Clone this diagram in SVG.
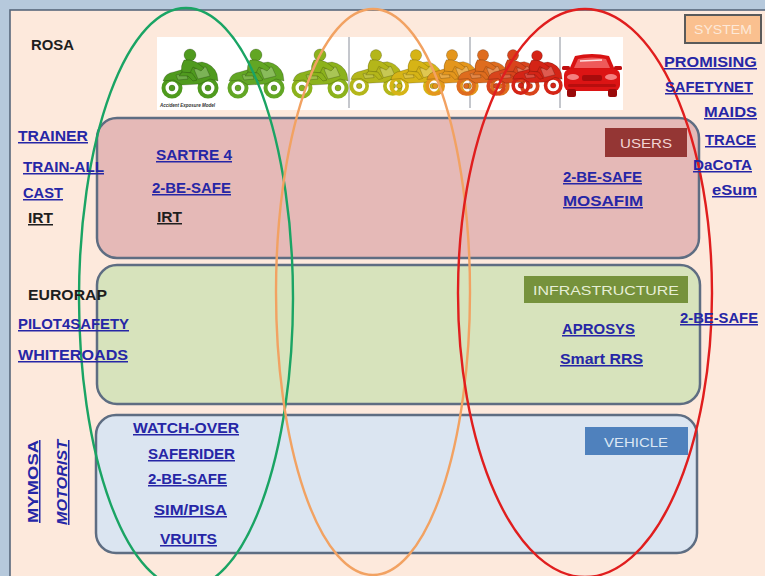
<svg xmlns="http://www.w3.org/2000/svg" xmlns:xlink="http://www.w3.org/1999/xlink" width="765" height="576" viewBox="0 0 765 576">
  <style>
    .lnk { font-family: "Liberation Sans", Arial, sans-serif; font-weight: bold; font-size: 15px; fill: #2626a6; text-decoration: underline; }
    .dark { font-family: "Liberation Sans", Arial, sans-serif; font-weight: bold; font-size: 15px; fill: #1e1e1e; }
    .tag { font-family: "Liberation Sans", Arial, sans-serif; font-size: 13.5px; text-anchor: middle; }
    .box { stroke: #5e6d82; stroke-width: 2.5; }
    .ring { fill: none; stroke-width: 2.4; }
  </style>
  <defs>
    <!-- rider on a sport motorcycle, facing right -->
    <symbol id="bike" viewBox="0 0 60 50" overflow="visible">
      <g stroke="rgba(0,0,0,0.25)" stroke-width="0.8">
        <circle cx="12" cy="40" r="8.5" fill="none" stroke="currentColor" stroke-width="4"/>
        <circle cx="48" cy="40" r="8.5" fill="none" stroke="currentColor" stroke-width="4"/>
        <circle cx="12" cy="40" r="3" fill="currentColor"/>
        <circle cx="48" cy="40" r="3" fill="currentColor"/>
        <path d="M3 33 Q5 25 14 24 L24 21 L30 16 L42 14 Q53 16 57 26 L58 33 L50 31 L40 36 L22 37 L14 32 Z" fill="currentColor"/>
        <path d="M34 21 L46 19 L50 28 L38 31 Z" fill="#ffffff" fill-opacity="0.25"/>
        <path d="M16 27 L26 25 L28 31 L18 32 Z" fill="#ffffff" fill-opacity="0.18"/>
        <circle cx="30" cy="7" r="6" fill="currentColor"/>
        <path d="M24 12 Q30 11 36 14 L44 20 L41 23 L33 19 L30 25 L22 25 Q20 18 24 12 Z" fill="currentColor"/>
        <path d="M22 24 L32 25 L37 32 L33 33 L28 28 L19 28 Z" fill="currentColor"/>
      </g>
    </symbol>
    <!-- car seen from the front -->
    <symbol id="car" viewBox="0 0 60 46" overflow="visible">
      <path d="M13 4 Q30 0 47 4 L53 18 L7 18 Z" fill="#d81212"/>
      <path d="M16 7 Q30 4 44 7 L48 16 L12 16 Z" fill="#ee5a5a"/>
      <path d="M18 9 L40 8" stroke="#ffffff" stroke-width="1.5" stroke-opacity="0.8"/>
      <rect x="0" y="14" width="8" height="4" rx="1.5" fill="#c00e0e"/>
      <rect x="52" y="14" width="8" height="4" rx="1.5" fill="#c00e0e"/>
      <rect x="2" y="17" width="56" height="22" rx="6" fill="#dc1414"/>
      <ellipse cx="11" cy="25" rx="6" ry="3" fill="#f48080"/>
      <ellipse cx="49" cy="25" rx="6" ry="3" fill="#f48080"/>
      <rect x="20" y="23" width="20" height="6" rx="2" fill="#a80c0c"/>
      <rect x="6" y="32" width="48" height="3" rx="1.5" fill="#b80e0e"/>
      <rect x="5" y="37" width="9" height="8" rx="2" fill="#9a0a0a"/>
      <rect x="46" y="37" width="9" height="8" rx="2" fill="#9a0a0a"/>
    </symbol>
  </defs>

  <!-- outer frame -->
  <rect x="0" y="0" width="765" height="576" fill="#b6c9dc"/>
  <rect x="10" y="10" width="760" height="575" fill="#fde9dc" stroke="#58677c" stroke-width="1.6"/>

  <!-- picture strip: exposure scale from motorcycles to car -->
  <g id="exposure-strip">
    <rect x="157" y="37" width="466" height="73" fill="#ffffff"/>
    <line x1="349" y1="37" x2="349" y2="108" stroke="#8a8f9a" stroke-width="1"/>
    <line x1="470" y1="37" x2="470" y2="108" stroke="#8a8f9a" stroke-width="1"/>
    <line x1="560" y1="37" x2="560" y2="108" stroke="#8a8f9a" stroke-width="1"/>
    <use xlink:href="#bike" x="160" y="48" width="60" height="50" style="color:#4f9a1e"/>
    <use xlink:href="#bike" x="226" y="48" width="60" height="50" style="color:#62a624"/>
    <use xlink:href="#bike" x="290" y="48" width="60" height="50" style="color:#8cb21c"/>
    <use xlink:href="#bike" x="348" y="48" width="56" height="48" style="color:#b4b61a"/>
    <use xlink:href="#bike" x="388" y="48" width="56" height="48" style="color:#d6b416"/>
    <use xlink:href="#bike" x="424" y="48" width="56" height="48" style="color:#e4961c"/>
    <use xlink:href="#bike" x="455" y="48" width="56" height="48" style="color:#de6c1e"/>
    <use xlink:href="#bike" x="485" y="48" width="56" height="48" style="color:#d8441c"/>
    <use xlink:href="#bike" x="510" y="47" width="54" height="50" style="color:#d42416"/>
    <use xlink:href="#car" x="562" y="52" width="60" height="46"/>
    <text x="160" y="107" font-family="Liberation Sans, Arial, sans-serif" font-size="4.5" font-style="italic" font-weight="bold" fill="#333">Accident Exposure Model</text>
  </g>

  <!-- category panels -->
  <g id="users">
    <rect class="box" x="97" y="118" width="602" height="140" rx="20" fill="#e5b9b7"/>
    <rect x="605" y="128" width="82" height="29" fill="#943634"/>
    <text class="tag" x="646" y="148" fill="#f2d4d4" textLength="52" lengthAdjust="spacingAndGlyphs">USERS</text>
  </g>
  <g id="infrastructure">
    <rect class="box" x="97" y="265" width="603" height="139" rx="20" fill="#d7e3bc"/>
    <rect x="524" y="276" width="164" height="27" fill="#76923c"/>
    <text class="tag" x="606" y="295" fill="#e6eed6" textLength="146" lengthAdjust="spacingAndGlyphs">INFRASTRUCTURE</text>
  </g>
  <g id="vehicle">
    <rect class="box" x="96" y="415" width="601" height="138" rx="20" fill="#dbe5f1"/>
    <rect x="585" y="427" width="103" height="28" fill="#4f81bd"/>
    <text class="tag" x="636" y="446.5" fill="#dce8f4" textLength="64" lengthAdjust="spacingAndGlyphs">VEHICLE</text>
  </g>
  <g id="system">
    <rect x="685" y="15" width="76" height="28" fill="#fac08f" stroke="#5a5a5a" stroke-width="2"/>
    <text class="tag" x="723" y="34" fill="#fde9d9" textLength="58" lengthAdjust="spacingAndGlyphs">SYSTEM</text>
  </g>

  <!-- exposure groupings -->
  <g id="connectors">
    <ellipse class="ring" cx="186" cy="298" rx="107" ry="290" stroke="#1aa464"/>
    <ellipse class="ring" cx="373" cy="292" rx="97" ry="283" stroke="#f2a262"/>
    <ellipse class="ring" cx="585" cy="293" rx="127" ry="284" stroke="#e01e1e"/>
  </g>

  <!-- projects -->
  <g id="projects-general">
    <text class="dark" x="31" y="50" font-size="14" textLength="43" lengthAdjust="spacingAndGlyphs">ROSA</text>
    <text class="lnk" x="18" y="141" textLength="70" lengthAdjust="spacingAndGlyphs">TRAINER</text>
    <text class="lnk" x="23" y="172" textLength="81" lengthAdjust="spacingAndGlyphs">TRAIN-ALL</text>
    <text class="lnk" x="23" y="198" textLength="40" lengthAdjust="spacingAndGlyphs">CAST</text>
    <text class="dark" x="28" y="223" text-decoration="underline" textLength="25" lengthAdjust="spacingAndGlyphs">IRT</text>
    <text class="dark" x="28" y="300" fill="#3a2a1c" textLength="79" lengthAdjust="spacingAndGlyphs">EURORAP</text>
    <text class="lnk" x="18" y="329" textLength="111" lengthAdjust="spacingAndGlyphs">PILOT4SAFETY</text>
    <text class="lnk" x="18" y="360" textLength="110" lengthAdjust="spacingAndGlyphs">WHITEROADS</text>
    <text class="lnk" transform="translate(38 523) rotate(-90)" x="0" y="0" textLength="83" lengthAdjust="spacingAndGlyphs">MYMOSA</text>
    <text class="lnk" transform="translate(67 525) rotate(-90)" x="0" y="0" font-style="italic" textLength="85" lengthAdjust="spacingAndGlyphs">MOTORIST</text>
  </g>
  <g id="projects-users">
    <text class="lnk" x="156" y="160" textLength="76" lengthAdjust="spacingAndGlyphs">SARTRE 4</text>
    <text class="lnk" x="152" y="193" textLength="79" lengthAdjust="spacingAndGlyphs">2-BE-SAFE</text>
    <text class="dark" x="157" y="222" text-decoration="underline" textLength="25" lengthAdjust="spacingAndGlyphs">IRT</text>
    <text class="lnk" x="563" y="182" textLength="79" lengthAdjust="spacingAndGlyphs">2-BE-SAFE</text>
    <text class="lnk" x="563" y="206" textLength="80" lengthAdjust="spacingAndGlyphs">MOSAFIM</text>
  </g>
  <g id="projects-system">
    <text class="lnk" x="664" y="67" textLength="93" lengthAdjust="spacingAndGlyphs">PROMISING</text>
    <text class="lnk" x="665" y="92" textLength="88" lengthAdjust="spacingAndGlyphs">SAFETYNET</text>
    <text class="lnk" x="704" y="117" textLength="53" lengthAdjust="spacingAndGlyphs">MAIDS</text>
    <text class="lnk" x="705" y="145" textLength="51" lengthAdjust="spacingAndGlyphs">TRACE</text>
    <text class="lnk" x="693" y="170" textLength="59" lengthAdjust="spacingAndGlyphs">DaCoTA</text>
    <text class="lnk" x="712" y="195" textLength="45" lengthAdjust="spacingAndGlyphs">eSum</text>
  </g>
  <g id="projects-infrastructure">
    <text class="lnk" x="680" y="323" textLength="78" lengthAdjust="spacingAndGlyphs">2-BE-SAFE</text>
    <text class="lnk" x="562" y="334" textLength="73" lengthAdjust="spacingAndGlyphs">APROSYS</text>
    <text class="lnk" x="560" y="364" textLength="83" lengthAdjust="spacingAndGlyphs">Smart RRS</text>
  </g>
  <g id="projects-vehicle">
    <text class="lnk" x="133" y="433" textLength="106" lengthAdjust="spacingAndGlyphs">WATCH-OVER</text>
    <text class="lnk" x="148" y="459" textLength="87" lengthAdjust="spacingAndGlyphs">SAFERIDER</text>
    <text class="lnk" x="148" y="484" textLength="79" lengthAdjust="spacingAndGlyphs">2-BE-SAFE</text>
    <text class="lnk" x="154" y="515" textLength="73" lengthAdjust="spacingAndGlyphs">SIM/PISA</text>
    <text class="lnk" x="160" y="544" textLength="57" lengthAdjust="spacingAndGlyphs">VRUITS</text>
  </g>
</svg>
